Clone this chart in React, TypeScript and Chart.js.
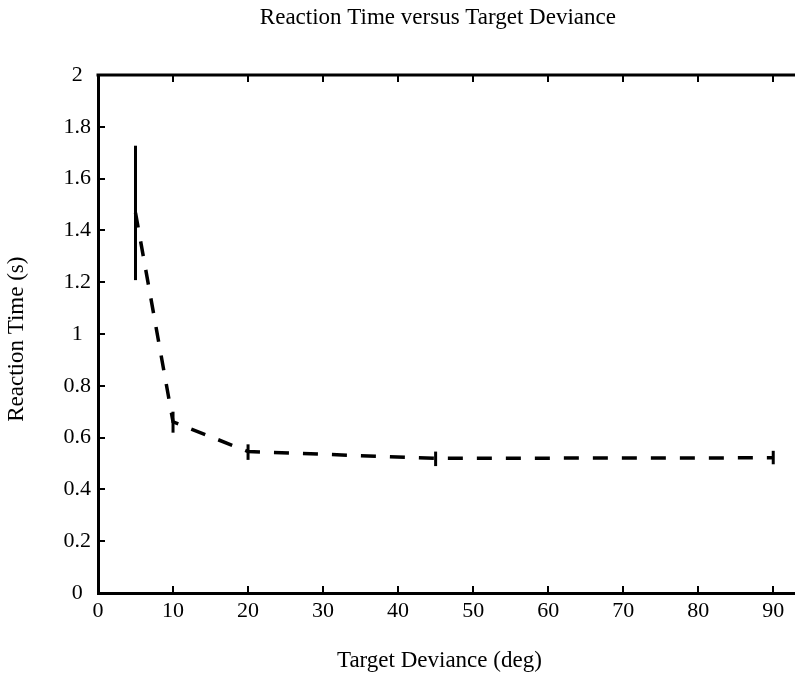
import React, { useEffect, useRef } from "react";
import { Chart, registerables } from "chart.js";

Chart.register(...registerables);

const deviance = [5, 10, 20, 45, 90];
const meanRT = [1.468, 0.661, 0.546, 0.52, 0.522];
const lowRT = [1.208, 0.619, 0.514, 0.49, 0.497];
const highRT = [1.727, 0.7, 0.574, 0.546, 0.549];
const xTicks = [0, 10, 20, 30, 40, 50, 60, 70, 80, 90];
const yTicks = [0, 0.2, 0.4, 0.6, 0.8, 1, 1.2, 1.4, 1.6, 1.8, 2];
const chartTitle = "Reaction Time versus Target Deviance";
const xLabel = "Target Deviance (deg)";
const yLabel = "Reaction Time (s)";

const FONT_FAMILY = "'Liberation Serif', serif";
const FONT_SIZE = 22;
const LABEL_SIZE = 23;

const framePlugin = {
  id: "frame",
  afterDraw(chart: any) {
    const { ctx, chartArea, scales } = chart;
    const { left, right, top, bottom } = chartArea;
    const xs = scales.x;
    const ys = scales.y;
    ctx.save();
    ctx.strokeStyle = "#000";
    ctx.lineWidth = 2;
    ctx.beginPath();
    for (const t of xs.ticks) {
      const px = Math.round(xs.getPixelForValue(t.value));
      ctx.moveTo(px, bottom);
      ctx.lineTo(px, bottom - 7);
      ctx.moveTo(px, top);
      ctx.lineTo(px, top + 7);
    }
    for (const t of ys.ticks) {
      const py = Math.round(ys.getPixelForValue(t.value));
      ctx.moveTo(left, py);
      ctx.lineTo(left + 7, py);
    }
    ctx.stroke();
    ctx.lineWidth = 3;
    ctx.beginPath();
    ctx.moveTo(left - 1.5, top);
    ctx.lineTo(right, top);
    ctx.stroke();

    // texts
    ctx.fillStyle = "#000";
    ctx.font = `${LABEL_SIZE}px ${FONT_FAMILY}`;
    ctx.textAlign = "center";
    ctx.textBaseline = "middle";
    ctx.fillText(chartTitle, xs.getPixelForValue(45.3), 18);
    ctx.fillText(xLabel, xs.getPixelForValue(45.5), 661);
    ctx.translate(17, ys.getPixelForValue(0.98));
    ctx.rotate(-Math.PI / 2);
    ctx.fillText(yLabel, 0, 0);
    ctx.restore();
  },
};

export default function App() {
  const canvasRef = useRef<HTMLCanvasElement | null>(null);

  useEffect(() => {
    if (!canvasRef.current) return;
    const errorSets = deviance.map((d, i) => ({
      type: "line" as const,
      data: [
        { x: d, y: lowRT[i] },
        { x: d, y: highRT[i] },
      ],
      borderColor: "#000",
      borderWidth: 3,
      pointRadius: 0,
      fill: false,
    }));
    const chart = new Chart(canvasRef.current, {
      type: "line",
      data: {
        datasets: [
          {
            label: "Mean reaction time",
            data: deviance.map((d, i) => ({ x: d, y: meanRT[i] })),
            borderColor: "#000",
            borderWidth: 3.5,
            borderDash: [15, 14],
            pointRadius: 0,
            tension: 0,
            fill: false,
          },
          ...errorSets,
        ],
      },
      options: {
        responsive: false,
        animation: false,
        events: [],
        layout: { padding: { top: 75, right: 0, bottom: 0, left: 0 } },
        plugins: {
          legend: { display: false },
          title: { display: false },
          tooltip: { enabled: false },
        },
        scales: {
          x: {
            type: "linear",
            min: 0,
            max: 92.9,
            afterBuildTicks: (scale: any) => {
              scale.ticks = xTicks.map((v) => ({ value: v }));
            },
            afterFit: (scale: any) => {
              scale.height = 82;
            },
            grid: { display: false, drawTicks: false },
            border: { display: true, color: "#000", width: 3 },
            ticks: {
              color: "#000",
              padding: 5,
              font: { family: FONT_FAMILY, size: FONT_SIZE },
              callback: (v: any) => String(v),
              maxRotation: 0,
            },
          },
          y: {
            type: "linear",
            min: 0,
            max: 2,
            afterBuildTicks: (scale: any) => {
              scale.ticks = yTicks.map((v) => ({ value: v }));
            },
            afterFit: (scale: any) => {
              scale.width = 98;
            },
            grid: { display: false, drawTicks: false },
            border: { display: true, color: "#000", width: 3 },
            ticks: {
              color: "#000",
              padding: 7,
              crossAlign: "center",
              font: { family: FONT_FAMILY, size: FONT_SIZE },
              callback: (v: any) => String(v),
            },
          },
        },
      },
      plugins: [framePlugin],
    });
    return () => chart.destroy();
  }, []);

  return (
    <div style={{ position: "absolute", left: 0, top: 0, width: 795, height: 675, background: "#fff" }}>
      <canvas ref={canvasRef} width={795} height={675} />
    </div>
  );
}
